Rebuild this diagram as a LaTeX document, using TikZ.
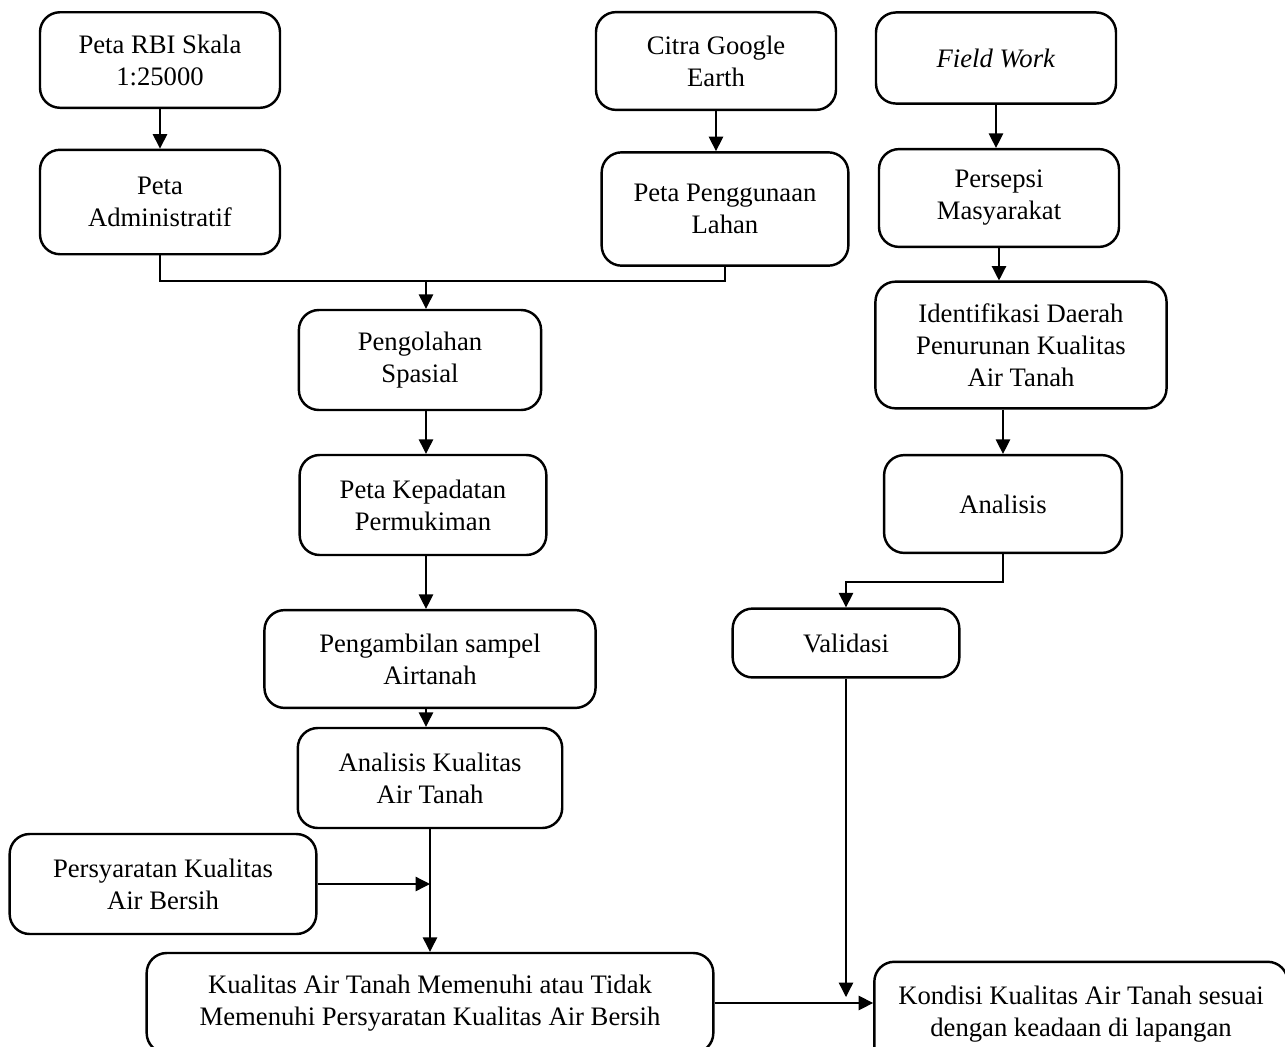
\documentclass[tikz,border=0pt]{standalone}
\usepackage{fontspec}
\setmainfont{Liberation Serif}
\usetikzlibrary{arrows.meta}
\begin{document}
\begin{tikzpicture}[x=0.45pt, y=-0.45pt, >={Triangle[length=6.5pt, width=6.5pt]},
    box/.style={draw, line width=1.1pt, rounded corners=9pt, align=center,
        font=\fontsize{12}{14.4}\selectfont, inner sep=2pt},
    line/.style={line width=0.6pt}]
\useasboundingbox (0,0) rectangle (1285,1047);
\clip (0,0) rectangle (1285,1047);
% left branch
\node[box, minimum width=108pt, minimum height=43pt] (rbi) at (160,60) {Peta RBI Skala\\1:25000};
\node[box, minimum width=108pt, minimum height=47pt] (admin) at (160,202) {Peta\\Administratif};
% middle branch
\node[box, minimum width=108pt, minimum height=44pt] (citra) at (716,61) {Citra Google\\Earth};
\node[box, minimum width=111pt, minimum height=51pt] (lahan) at (725,209) {Peta Penggunaan\\Lahan};
% right branch
\node[box, minimum width=108pt, minimum height=41pt] (field) at (996,58) {\textit{Field Work}};
\node[box, minimum width=108pt, minimum height=44pt] (persepsi) at (999,198) {Persepsi\\Masyarakat};
\node[box, minimum width=131pt, minimum height=57pt] (identifikasi) at (1021,345) {Identifikasi Daerah\\Penurunan Kualitas\\Air Tanah};
\node[box, minimum width=107pt, minimum height=44pt] (analisis) at (1003,504) {Analisis};
\node[box, minimum width=102pt, minimum height=31pt] (validasi) at (846,643) {Validasi};
% centre column
\node[box, minimum width=109pt, minimum height=45pt] (olah) at (420,360) {Pengolahan\\Spasial};
\node[box, minimum width=111pt, minimum height=45pt] (kepadatan) at (423,505) {Peta Kepadatan\\Permukiman};
\node[box, minimum width=149pt, minimum height=44pt] (sampel) at (430,659) {Pengambilan sampel\\Airtanah};
\node[box, minimum width=119pt, minimum height=45pt] (kualitas) at (430,778) {Analisis Kualitas\\Air Tanah};
\node[box, minimum width=138pt, minimum height=45pt] (syarat) at (163,884) {Persyaratan Kualitas\\Air Bersih};
\node[box, minimum width=255pt, minimum height=45pt] (hasil) at (430,1003) {Kualitas Air Tanah Memenuhi atau Tidak\\Memenuhi Persyaratan Kualitas Air Bersih};
\node[box, minimum width=186pt, minimum height=47pt] (kondisi) at (1081,1014) {Kondisi Kualitas Air Tanah sesuai\\dengan keadaan di lapangan};

% connectors
\draw[line, ->] (rbi) -- (admin);
\draw[line, ->] (citra) -- (citra |- lahan.north);
\draw[line, ->] (field) -- (field |- persepsi.north);
\coordinate (join) at (426,281);
\draw[line] (admin.south) |- (lahan.south |- join) -- (lahan.south);
\draw[line, ->] (join) -- (join |- olah.north);
\draw[line, ->] (persepsi) -- (persepsi |- identifikasi.north);
\draw[line, ->] (analisis |- identifikasi.south) -- (analisis.north);
\draw[line, ->] (analisis.south) -- ++(0,28) -| (validasi.north);
\draw[line, ->] (olah.south -| join) -- (join |- kepadatan.north);
\draw[line, ->] (kepadatan.south -| join) -- (join |- sampel.north);
\draw[line, ->] (sampel.south -| join) -- (join |- kualitas.north);
\draw[line, ->] (kualitas) -- (hasil);
\draw[line, ->] (syarat.east) -- (syarat.east -| kualitas.south);
\coordinate (vend) at (validasi.south |- 0,997);
\draw[line, ->] (validasi) -- (vend);
\draw[line, ->] (hasil.east) -- (hasil.east -| kondisi.west);
\end{tikzpicture}
\end{document}
